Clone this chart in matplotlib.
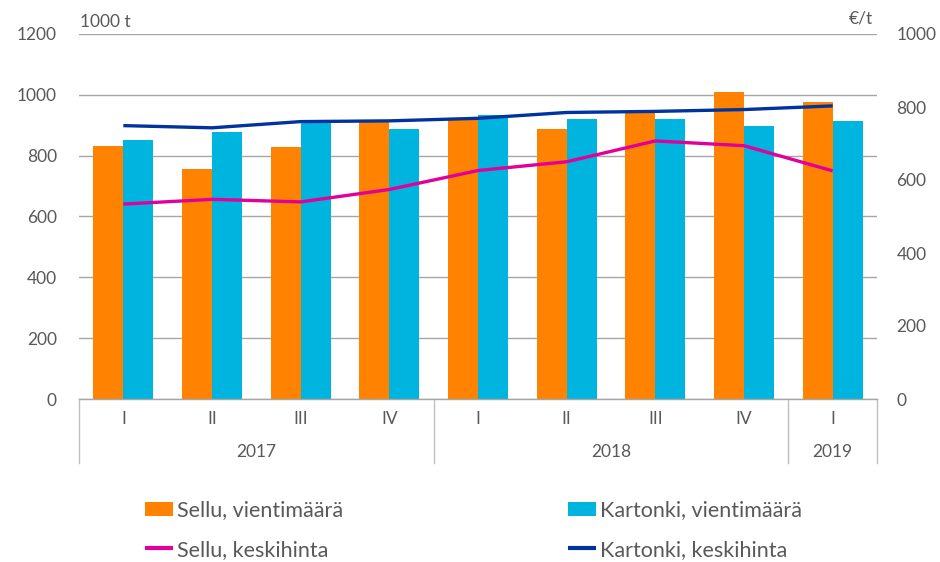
import matplotlib
matplotlib.use("Agg")
import matplotlib.pyplot as plt
import matplotlib.transforms as mtransforms
import numpy as np

quarters = ["I", "II", "III", "IV", "I", "II", "III", "IV", "I"]
years = ["2017", "2018", "2019"]
year_spans = [(0, 3), (4, 7), (8, 8)]

sellu_volume = [833, 755, 827, 912, 921, 889, 946, 1009, 977]
kartonki_volume = [850, 877, 913, 888, 935, 919, 922, 896, 913]
sellu_price = [534, 547, 540, 574, 626, 650, 707, 694, 625]
kartonki_price = [749, 743, 760, 762, 769, 785, 788, 793, 803]

ORANGE = "#FF8200"
CYAN = "#00B4E0"
MAGENTA = "#E2009A"
NAVY = "#0033A0"
GRID = "#A6A6A6"
TXT = "#595959"
FS = 12.5

plt.rcParams['font.family'] = ['Lato', 'DejaVu Sans']

fig = plt.figure(figsize=(9.4, 5.62), dpi=100)
ax = fig.add_axes([79/940, 1 - 399/562, (877-79)/940, (399-34)/562])
ax2 = ax.twinx()

x = np.arange(len(quarters))
w = 0.34
b1 = ax.bar(x - w/2, sellu_volume, w, color=ORANGE, label="Sellu, vientimäärä", zorder=2)
b2 = ax.bar(x + w/2, kartonki_volume, w, color=CYAN, label="Kartonki, vientimäärä", zorder=2)

l1, = ax2.plot(x, sellu_price, color=MAGENTA, lw=2.4, label="Sellu, keskihinta", solid_capstyle='butt')
l2, = ax2.plot(x, kartonki_price, color=NAVY, lw=2.4, label="Kartonki, keskihinta", solid_capstyle='butt')

ax.set_xlim(-0.5, len(quarters) - 0.5)
ax.set_ylim(0, 1200)
ax.set_yticks(range(0, 1201, 200))
ax2.set_ylim(0, 1000)
ax2.set_yticks(range(0, 1001, 200))

ax.yaxis.grid(True, color=GRID, lw=1, zorder=0)
ax.set_axisbelow(True)
for a in (ax, ax2):
    for s in ("top", "left", "right", "bottom"):
        a.spines[s].set_visible(False)
    a.tick_params(axis='y', length=0, labelsize=FS, colors=TXT)
ax.tick_params(axis='y', pad=16)
ax2.tick_params(axis='y', pad=14)
ax.set_xticks([])

# category axis
trans = mtransforms.blended_transform_factory(ax.transData, ax.transAxes)
ax.plot([-0.5, 8.5], [0, 0], color=GRID, lw=1, transform=trans, clip_on=False, zorder=3)
for bx in [-0.5, 3.5, 7.5, 8.5]:
    ax.plot([bx, bx], [0, -0.175], color="#BFBFBF", lw=1, transform=trans, clip_on=False)
for xi, q in zip(x, quarters):
    ax.text(xi, -0.055, q, transform=trans, ha='center', va='center', fontsize=FS, color=TXT)
for (a, b), yname in zip(year_spans, years):
    ax.text((a + b) / 2, -0.145, yname, transform=trans, ha='center', va='center', fontsize=FS, color=TXT)

fig.text(80/940, 1 - 22/562, "1000 t", fontsize=FS, color=TXT, ha='left', va='center')
fig.text(873/940, 1 - 19/562, "€/t", fontsize=FS, color=TXT, ha='right', va='center')

common = dict(loc='center left', frameon=False, fontsize=15.5, handlelength=1.3, handleheight=0.65,
              handletextpad=0.2, labelspacing=0.9, labelcolor=TXT, borderpad=0, borderaxespad=0)
leg1 = fig.legend([b1, l1], ["Sellu, vientimäärä", "Sellu, keskihinta"],
                  bbox_to_anchor=(145/940, 1 - 530/562), **common)
leg2 = fig.legend([b2, l2], ["Kartonki, vientimäärä", "Kartonki, keskihinta"],
                  bbox_to_anchor=(568/940, 1 - 530/562), **common)
for lg in (leg1, leg2):
    for h in lg.legend_handles:
        if hasattr(h, 'set_linewidth') and not hasattr(h, 'get_width'):
            h.set_linewidth(3)

fig.savefig("out.png", dpi=100)
